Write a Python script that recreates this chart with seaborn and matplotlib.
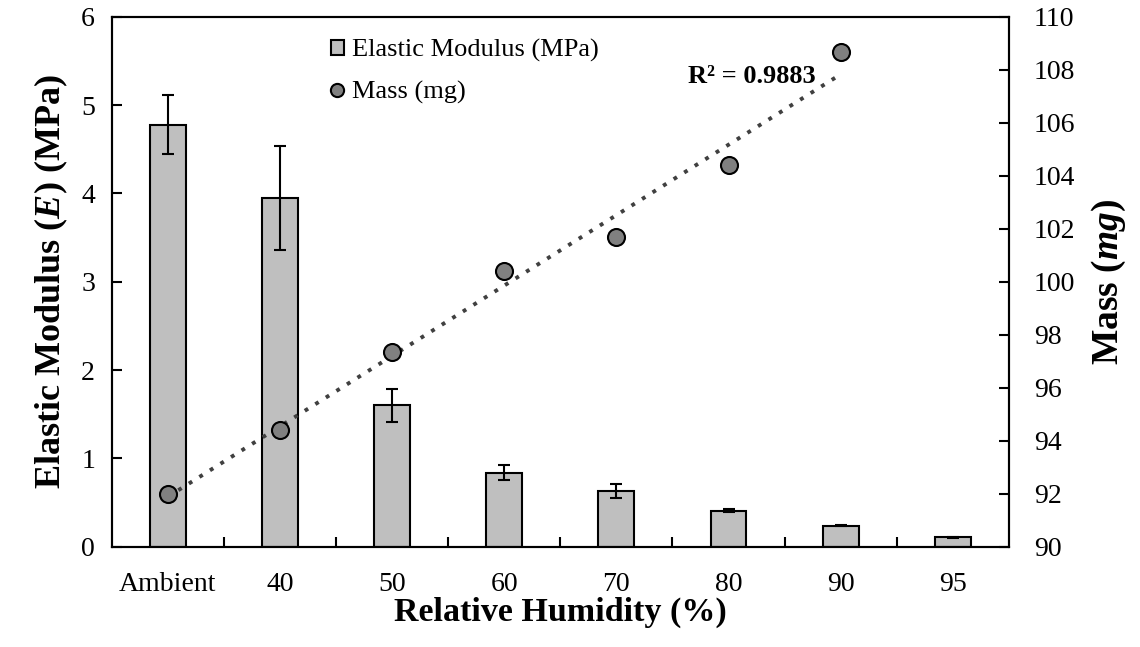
import numpy as np
import pandas as pd
import matplotlib
matplotlib.use("Agg")
import matplotlib.pyplot as plt
import seaborn as sns
from matplotlib.lines import Line2D
from matplotlib.patches import Patch
from matplotlib.ticker import FixedLocator

categories = ["Ambient", "40", "50", "60", "70", "80", "90", "95"]
modulus = [4.78, 3.95, 1.60, 0.84, 0.635, 0.41, 0.24, 0.105]
modulus_err = [0.33, 0.59, 0.19, 0.08, 0.08, 0.02, 0.01, 0.01]
mass_categories = ["Ambient", "40", "50", "60", "70", "80", "90"]
mass = [92.0, 94.42, 97.35, 100.42, 101.7, 104.42, 108.69]

sns.set_theme(style="ticks")
plt.rcParams["font.family"] = ["Liberation Serif", "DejaVu Serif"]
plt.rcParams["mathtext.fontset"] = "custom"
plt.rcParams["mathtext.rm"] = "Liberation Serif"
plt.rcParams["mathtext.it"] = "Liberation Serif:italic"
plt.rcParams["mathtext.bf"] = "Liberation Serif:bold"
plt.rcParams["mathtext.bfit"] = "Liberation Serif:italic:bold"
for k in ["text.color", "axes.labelcolor", "xtick.color", "ytick.color", "axes.edgecolor"]:
    plt.rcParams[k] = "black"

fig = plt.figure(figsize=(11.4, 6.47), dpi=100)
ax = fig.add_axes([0.098, 0.155, 0.787, 0.819])

df = pd.DataFrame({"cat": categories, "E": modulus})
sns.barplot(data=df, x="cat", y="E", ax=ax, color="#BFBFBF", edgecolor="black",
            linewidth=1.5, width=0.32, saturation=1, errorbar=None)
ax.errorbar(np.arange(len(categories)), modulus, yerr=modulus_err, fmt="none",
            ecolor="black", elinewidth=1.5, capsize=4.5, capthick=1.5, zorder=3)

ax.set_ylim(0, 6)
ax.set_xlim(-0.5, len(categories) - 0.5)
ax.set_yticks(range(0, 7))
ax.tick_params(axis="y", direction="in", length=7, width=1.5, labelsize=20, pad=12)
ax.tick_params(axis="x", which="major", length=0, labelsize=20, pad=18)
ax.xaxis.set_minor_locator(FixedLocator(np.arange(0.5, len(categories) - 0.5, 1)))
ax.tick_params(axis="x", which="minor", direction="in", length=7, width=1.5)
for s in ax.spines.values():
    s.set_linewidth(1.5)
    s.set_color("black")
ax.set_xlabel("Relative Humidity (%)", fontsize=24.5, fontweight="bold", labelpad=0)
ax.set_ylabel(r"Elastic Modulus ($\mathbfit{E}$) (MPa)", fontsize=26, fontweight="bold", labelpad=8)

ax2 = ax.twinx()
mdf = pd.DataFrame({"x": np.arange(len(mass_categories)), "mass": mass})
sns.regplot(data=mdf, x="x", y="mass", ax=ax2, scatter=False, ci=None,
            line_kws=dict(color="#404040", linestyle=(0, (1, 2.2)), linewidth=2.8))
sns.scatterplot(data=mdf, x="x", y="mass", ax=ax2, color="#808080", edgecolor="black",
                linewidth=1.5, s=150, zorder=4)
ax2.set_ylim(90, 110)
ax2.set_yticks(range(90, 111, 2))
ax2.set_xlim(-0.5, len(categories) - 0.5)
ax2.tick_params(axis="y", direction="in", length=7, width=1.5, labelsize=20, pad=18)
ax2.set_ylabel(r"Mass ($\mathbfit{mg}$)", fontsize=27, fontweight="bold", labelpad=10)
ax2.set_xlabel("")
for s in ax2.spines.values():
    s.set_linewidth(1.5)
    s.set_color("black")

ax2.text(5.777, 107.74, "R² = 0.9883", fontsize=19, fontweight="bold", ha="right", va="center")

handles = [Patch(facecolor="#BFBFBF", edgecolor="black", linewidth=1.5, label="Elastic Modulus (MPa)"),
           Line2D([], [], marker="o", linestyle="none", markerfacecolor="#808080",
                  markeredgecolor="black", markeredgewidth=1.5, markersize=9.5, label="Mass (mg)")]
ax2.legend(handles=handles, loc="upper left", bbox_to_anchor=(0.2175, 1.003), frameon=False,
           fontsize=19, handlelength=0.5, handleheight=0.5, handletextpad=0.3, labelspacing=0.7)

fig.savefig("out.png", dpi=100)
